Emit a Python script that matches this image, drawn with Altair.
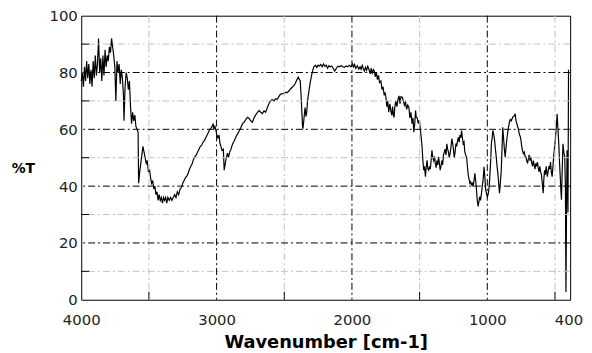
import altair as alt
import pandas as pd

wavenumber = [
    4000, 3992, 3984, 3976, 3968, 3960, 3952, 3944, 3936, 3928, 3920, 3912, 3904, 3896, 3888, 3880,
    3872, 3864, 3856, 3848, 3840, 3832, 3824, 3816, 3808, 3800, 3792, 3784, 3776, 3768, 3760, 3752,
    3744, 3736, 3728, 3720, 3712, 3704, 3696, 3688, 3684, 3676, 3668, 3660, 3652, 3644, 3636, 3628,
    3620, 3612, 3604, 3596, 3588, 3580, 3576, 3568, 3560, 3552, 3544, 3536, 3528, 3520, 3512, 3504,
    3496, 3488, 3480, 3472, 3464, 3456, 3448, 3440, 3432, 3424, 3416, 3408, 3400, 3392, 3384, 3376,
    3368, 3360, 3350, 3340, 3330, 3320, 3310, 3300, 3290, 3280, 3270, 3260, 3250, 3240, 3230, 3220,
    3210, 3200, 3190, 3180, 3170, 3160, 3150, 3140, 3130, 3120, 3110, 3100, 3090, 3080, 3070, 3060,
    3050, 3040, 3030, 3025, 3020, 3012, 3005, 2998, 2990, 2982, 2975, 2968, 2960, 2950, 2944, 2936,
    2928, 2920, 2912, 2904, 2896, 2888, 2880, 2868, 2856, 2844, 2832, 2820, 2808, 2796, 2784, 2771,
    2760, 2748, 2735, 2724, 2712, 2698, 2686, 2674, 2662, 2650, 2638, 2626, 2614, 2601, 2590, 2576,
    2564, 2552, 2540, 2528, 2516, 2504, 2492, 2479, 2466, 2454, 2442, 2430, 2418, 2406, 2396, 2388,
    2382, 2376, 2370, 2365, 2362, 2356, 2350, 2346, 2340, 2334, 2328, 2321, 2310, 2297, 2288, 2280,
    2270, 2260, 2250, 2240, 2230, 2220, 2210, 2200, 2190, 2180, 2170, 2160, 2150, 2140, 2127, 2115,
    2104, 2092, 2080, 2068, 2056, 2044, 2032, 2020, 2008, 1996, 1988, 1981, 1972, 1960, 1950, 1940,
    1932, 1924, 1916, 1908, 1900, 1892, 1883, 1875, 1866, 1858, 1850, 1842, 1835, 1828, 1820, 1812,
    1804, 1796, 1786, 1778, 1770, 1762, 1755, 1749, 1742, 1736, 1728, 1720, 1713, 1706, 1700, 1694,
    1689, 1683, 1676, 1668, 1660, 1652, 1645, 1638, 1627, 1620, 1612, 1604, 1596, 1588, 1579, 1572,
    1564, 1556, 1549, 1543, 1536, 1530, 1525, 1518, 1510, 1506, 1501, 1494, 1488, 1482, 1476, 1470,
    1464, 1457, 1451, 1445, 1439, 1433, 1427, 1421, 1415, 1409, 1403, 1396, 1390, 1384, 1378, 1372,
    1366, 1360, 1354, 1348, 1342, 1336, 1330, 1324, 1318, 1312, 1305, 1299, 1293, 1287, 1281, 1275,
    1268, 1262, 1256, 1250, 1244, 1238, 1232, 1226, 1220, 1214, 1208, 1202, 1196, 1190, 1184, 1178,
    1172, 1166, 1160, 1153, 1147, 1141, 1135, 1129, 1123, 1117, 1111, 1105, 1098, 1092, 1086, 1080,
    1074, 1068, 1062, 1056, 1050, 1043, 1037, 1031, 1024, 1018, 1012, 1006, 1000, 994, 988, 983,
    976, 970, 964, 959, 952, 946, 940, 934, 928, 922, 916, 910, 904, 897, 892, 886,
    880, 874, 868, 861, 854, 846, 837, 830, 822, 813, 806, 800, 794, 788, 782, 776,
    770, 764, 757, 751, 746, 740, 734, 727, 721, 715, 709, 703, 697, 691, 685, 679,
    673, 666, 660, 654, 648, 642, 636, 630, 624, 618, 612, 606, 600, 594, 590, 587,
    583, 577, 571, 565, 557, 551, 545, 539, 533, 527, 521, 515, 508, 502, 496, 490,
    484, 478, 472, 466, 460, 456, 452, 447, 441, 435, 428, 423, 419, 415, 411, 407,
    404, 400,
]

transmittance = [
    77, 80, 75, 82, 77, 84, 78, 83, 76, 81, 75, 84, 78, 86, 79, 83,
    92, 80, 85, 77, 86, 79, 88, 82, 86, 84, 89, 87, 92, 89, 86, 82,
    70, 84, 80, 83, 76, 81, 78, 72, 63, 75, 80, 78, 74, 77, 68, 62,
    66, 63, 65, 61, 60, 59, 41, 45, 48, 51, 54, 52, 50, 48, 49, 45,
    46, 43, 41, 42, 39, 40, 37, 38, 35, 37, 35, 36, 34, 36, 35, 36,
    34, 36, 35, 36, 35, 36, 37, 36, 38, 37, 39, 39.5, 41, 42, 43, 43.5,
    44.5, 46, 47, 48, 49.5, 50.3, 51, 52, 53, 54, 54.4, 55.5, 56, 57, 58, 59,
    60, 60.5, 61.3, 62, 60, 61, 59.6, 58, 57, 58, 55, 54, 52.6, 53, 45.6, 48,
    50, 51.6, 50, 52, 52.6, 54, 55, 56.1, 57.5, 58.5, 59.5, 60.7, 62, 62.5, 63.5, 64.2,
    63.8, 63, 62.5, 64, 65, 66, 66.6, 66, 65.5, 66.5, 66, 67.5, 69, 70, 70.5, 70,
    70.8, 70.6, 71.5, 72.4, 72.5, 72.7, 73, 72.9, 73.5, 74.2, 74.8, 75.3, 76.2, 77.5, 78.4, 77.5,
    77, 72, 66, 61, 60.2, 63, 66, 67.7, 64.5, 66, 70, 72.4, 76, 79.3, 81, 82.2,
    82.5, 81.8, 82.6, 82.3, 82.8, 82, 83, 82.2, 82.6, 81.5, 82.4, 82, 82.3, 81.6, 80.5, 81.5,
    82.2, 82, 82.4, 82, 81.8, 82.3, 82, 82.5, 82, 83, 82, 82.8, 81.5, 82.4, 81.2, 82,
    81.1, 82.5, 81.4, 80.5, 81.8, 80.8, 82.2, 81.2, 79.5, 81.5, 79.8, 81, 80.5, 78.5, 80, 77.5,
    79, 76.5, 77, 74, 75, 72, 73, 71.2, 68, 70, 66, 69, 66.6, 65, 68, 65,
    64.2, 68, 70, 68, 70.5, 71.8, 69, 71.5, 71.2, 70, 68.5, 69.5, 67, 68.5, 67.7, 64,
    66, 62, 64, 59, 62, 66.6, 64.2, 64, 62, 63, 63, 59.6, 57, 53.8, 49, 45.6,
    47, 43.3, 47, 49.1, 46, 45.6, 47, 46, 49, 52.6, 50, 49, 50.5, 48, 46.5, 49,
    47.5, 50.3, 48, 45.6, 47, 49, 47.5, 50.9, 52, 53, 51, 54.9, 53, 52, 50, 51.5,
    54, 56.7, 55, 53, 50, 52, 55, 54, 56, 57.2, 55.5, 58, 57, 59.6, 57, 54.9,
    55.5, 52, 51, 50.3, 47, 44, 42.5, 41, 41.5, 40.5, 41, 39.8, 42, 44.5, 42, 38.7,
    35, 32.9, 34.5, 36.3, 35, 37.5, 40, 42.2, 46.8, 43, 38.7, 37.5, 36.3, 37, 39, 42.2,
    48, 54.9, 57, 59.6, 58, 56.1, 53, 50.3, 47, 44.5, 41, 37.5, 41, 45.6, 52, 60.7,
    57, 53, 50.3, 54, 57.2, 60, 62.5, 63.5, 63, 64.2, 64.5, 64.8, 65.5, 63, 62, 61,
    60, 58.4, 57.5, 56.1, 54, 52.6, 51.5, 52, 50.5, 50.3, 49, 48, 49.5, 51, 49, 50.3,
    48.5, 47, 49, 47.4, 46, 48, 47, 48.5, 46.5, 45, 47, 45, 44, 41, 39, 37.5,
    42, 45.6, 44, 47, 43.3, 45, 47, 46, 48.5, 45, 43.3, 47, 51.5, 54, 57.2, 61,
    65.4, 60, 54.9, 48, 42.2, 38, 35.2, 45, 54.9, 52, 50.3, 40, 2.7, 30, 52.6, 45,
    30.7, 81,
]

x_major = [3000, 2000, 1000]
x_minor = [3500, 2500, 1500, 500]
y_major = [20, 40, 60, 80]
y_minor = [10, 30, 50, 70, 90]
x_labels = [4000, 3000, 2000, 1000, 400]
y_labels = [0, 20, 40, 60, 80, 100]

W, H = 494, 287
DASH = [7, 3, 2, 3]

spec = pd.DataFrame({"wn": wavenumber, "t": transmittance})
xscale = alt.Scale(domain=[4000, 388], nice=False, zero=False)
yscale = alt.Scale(domain=[0, 100], nice=False)

x_axis = alt.Axis(
    values=x_labels, format="d", grid=False, ticks=False, domain=False,
    labelFont="DejaVu Sans", labelFontSize=15, labelColor="#222",
    labelPadding=13, labelFlush=False,
    title="Wavenumber [cm-1]", titleFont="DejaVu Sans",
    titleFontSize=18, titleFontWeight="bold", titleColor="black",
    titlePadding=6,
)
y_axis = alt.Axis(
    values=y_labels, format="d", grid=False, ticks=False, domain=False,
    labelFont="DejaVu Sans", labelFontSize=15, labelColor="#222",
    labelPadding=4, labelFlush=False,
    title="%T", titleAngle=0, titleX=-59, titleY=154,
    titleAlign="center", titleBaseline="middle",
    titleFont="DejaVu Sans", titleFontSize=14, titleFontWeight="bold",
    titleColor="black",
)

line = alt.Chart(spec).mark_line(color="black", strokeWidth=1.2).encode(
    x=alt.X("wn:Q", scale=xscale, axis=x_axis),
    y=alt.Y("t:Q", scale=yscale, axis=y_axis),
    order="idx:Q",
).transform_window(idx="row_number()")

xg_minor = alt.Chart(pd.DataFrame({"wn": x_minor})).mark_rule(
    color="#c0c0c0", strokeDash=DASH, strokeWidth=1
).encode(x=alt.X("wn:Q", scale=xscale, axis=x_axis))
yg_minor = alt.Chart(pd.DataFrame({"t": y_minor})).mark_rule(
    color="#c0c0c0", strokeDash=DASH, strokeWidth=1
).encode(y=alt.Y("t:Q", scale=yscale, axis=y_axis))
xg_major = alt.Chart(pd.DataFrame({"wn": x_major})).mark_rule(
    color="black", strokeDash=DASH, strokeWidth=1
).encode(x=alt.X("wn:Q", scale=xscale, axis=x_axis))
yg_major = alt.Chart(pd.DataFrame({"t": y_major})).mark_rule(
    color="black", strokeDash=DASH, strokeWidth=1
).encode(y=alt.Y("t:Q", scale=yscale, axis=y_axis))

x_ticks = alt.Chart(pd.DataFrame({"wn": x_minor})).mark_rule(
    color="black", strokeWidth=1
).encode(
    x=alt.X("wn:Q", scale=xscale, axis=x_axis),
    y=alt.value(H), y2=alt.value(H - 8),
)
y_ticks = alt.Chart(pd.DataFrame({"t": y_minor})).mark_rule(
    color="black", strokeWidth=1
).encode(
    y=alt.Y("t:Q", scale=yscale, axis=y_axis),
    x=alt.value(0), x2=alt.value(8),
)

chart = alt.layer(
    line, xg_minor, yg_minor, xg_major, yg_major, x_ticks, y_ticks
).properties(
    width=W, height=H,
    background="white",
    autosize=alt.AutoSizeParams(type="none"),
    padding={"left": 74, "top": 6, "right": 14, "bottom": 50},
).configure_view(stroke="black", strokeWidth=1)

chart.save("out.html", embed_options={"renderer": "svg", "actions": False})
